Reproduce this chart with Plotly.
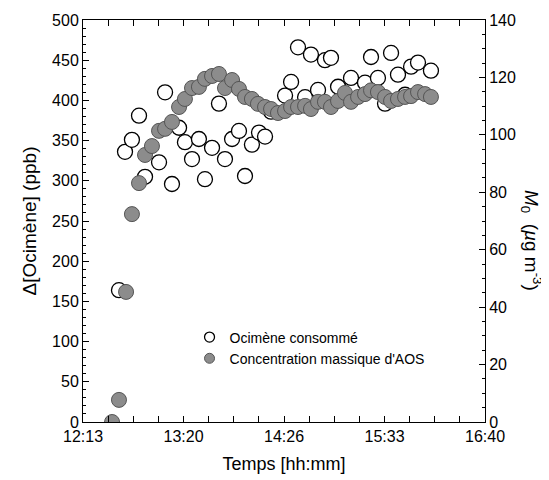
import plotly.graph_objects as go

# elapsed minutes after 12:13
t_aos = [19.3, 23.9, 28.6, 32.5, 37.2, 41.2, 45.8, 50.5, 54.5, 59.1,
         63.8, 67.7, 72.4, 77.0, 81.0, 85.7, 90.3, 94.3, 99.0, 103.6,
         107.6, 112.2, 116.2, 120.9, 124.9, 129.5, 134.2, 138.2, 142.8, 147.5,
         151.4, 156.1, 160.7, 164.7, 169.4, 174.0, 178.0, 182.7, 187.3, 191.3,
         195.9, 200.6, 204.6, 209.2, 213.9, 217.9, 222.5, 227.2, 231.1]
m0_aos = [0.0, 7.7, 45.3, 72.4, 83.2, 93.0, 96.1, 101.4, 102.1, 104.5,
          109.7, 112.5, 116.3, 116.7, 119.5, 120.5, 121.2, 116.3, 119.1, 116.0,
          113.2, 112.5, 110.8, 109.7, 109.0, 107.6, 108.3, 109.7, 109.7, 110.1,
          109.0, 111.5, 111.5, 109.7, 111.8, 114.6, 111.5, 113.2, 114.2, 115.5,
          114.9, 113.2, 111.8, 112.5, 113.2, 113.5, 114.9, 114.2, 113.2]

t_oci = [23.9, 27.9, 32.5, 37.2, 41.2, 50.5, 54.5, 59.1, 63.8, 67.7,
         72.4, 77.0, 81.0, 85.7, 90.3, 94.3, 99.0, 103.6, 107.6, 112.2,
         116.9, 120.9, 124.9, 134.2, 138.2, 142.8, 147.5, 151.4, 156.1, 160.7,
         164.7, 169.4, 178.0, 187.3, 191.3, 195.9, 200.6, 204.6, 209.2, 213.9,
         217.9, 222.5, 231.1]
ppb_oci = [164, 336, 351, 381, 305, 323, 410, 296, 366, 348,
           327, 352, 302, 341, 396, 327, 352, 362, 306, 345,
           360, 355, 386, 406, 423, 466, 404, 457, 413, 450,
           453, 417, 428, 422, 454, 428, 396, 459, 432, 407,
           442, 447, 437]

tick_pos = [0, 66.75, 133.5, 200.25, 267]
tick_txt = ["12:13", "13:20", "14:26", "15:33", "16:40"]

font = "Liberation Sans, Arial, sans-serif"

fig = go.Figure()
fig.add_trace(go.Scatter(
    x=t_oci, y=ppb_oci, mode="markers", showlegend=False,
    marker=dict(size=15, color="white", line=dict(color="black", width=1.3))))
fig.add_trace(go.Scatter(
    x=t_aos, y=m0_aos, mode="markers", yaxis="y2", showlegend=False,
    marker=dict(size=15, color="#8c8c8c", line=dict(color="#555555", width=1))))

# legend entries with smaller symbols
fig.add_trace(go.Scatter(
    x=[None], y=[None], mode="markers", name="Ocimène consommé",
    marker=dict(size=10, color="white", line=dict(color="black", width=1.3))))
fig.add_trace(go.Scatter(
    x=[None], y=[None], mode="markers", name="Concentration massique d'AOS",
    marker=dict(size=10, color="#8c8c8c", line=dict(color="#555555", width=1))))

axis_common = dict(showline=True, linecolor="black", linewidth=1,
                   ticks="inside", ticklen=6, tickcolor="black",
                   showgrid=False, zeroline=False, automargin=False,
                   tickfont=dict(size=16, color="black"))

# page body adds ~8px offset, so margins compensate
fig.update_layout(
    width=549, height=480,
    margin=dict(l=75, r=72, t=12, b=66),
    plot_bgcolor="white", paper_bgcolor="white",
    font=dict(family=font, color="black"),
    xaxis=dict(range=[0, 267], tickvals=tick_pos, ticktext=tick_txt,
               mirror="allticks",
               minor=dict(tickvals=[i * 66.75 / 4 for i in range(17)],
                          ticks="inside", ticklen=3, tickcolor="black"),
               title=dict(text="Temps [hh:mm]", font=dict(size=18), standoff=13),
               **axis_common),
    yaxis=dict(range=[0, 500], dtick=50,
               minor=dict(dtick=10, ticks="inside", ticklen=3, tickcolor="black"),
               title=dict(text="Δ[Ocimène] (ppb)", font=dict(size=19), standoff=10),
               **axis_common),
    yaxis2=dict(range=[0, 140], dtick=20, overlaying="y", side="right",
                minor=dict(dtick=5, ticks="inside", ticklen=3, tickcolor="black"),
                **axis_common),
    legend=dict(x=0.265, y=0.25, xanchor="left", yanchor="top",
                bgcolor="rgba(0,0,0,0)", font=dict(size=14),
                tracegroupgap=0),
)

fig.add_annotation(
    text="<i>M</i><sub>0</sub>  (<i>µ</i>g m<sup>-3</sup>)",
    xref="paper", yref="paper", x=1.0, y=0.453, xshift=46,
    xanchor="center", yanchor="middle",
    textangle=90, showarrow=False, font=dict(size=19, color="black"))

fig.write_html("out.html")
